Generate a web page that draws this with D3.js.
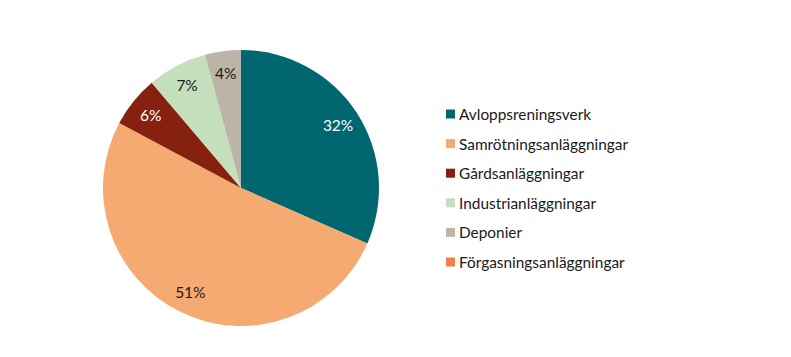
<!DOCTYPE html>
<html><head><meta charset="utf-8">
<script src="https://cdn.jsdelivr.net/npm/d3@7"></script>
<style>body{margin:0;background:#fff}svg{display:block}</style>
</head><body>
<script>
const categories = ["Avloppsreningsverk","Samrötningsanläggningar","Gårdsanläggningar","Industrianläggningar","Deponier","Förgasningsanläggningar"];
const values = [31.6, 51.2, 6.0, 7.0, 4.2, 0];
const colors = ["#00666F","#F4AA70","#86200F","#C4DFBC","#BCB4A7","#F07F4A"];
const labelColors = ["#ffffff","#1a1a1a","#ffffff","#1a1a1a","#1a1a1a","#1a1a1a"];

const W = 791, H = 357;
const svg = d3.select("body").append("svg").attr("width", W).attr("height", H);
const cx = 241, cy = 188, r = 138;
const data = categories.map((c, i) => ({c, v: values[i], i}));
const pie = d3.pie().value(d => d.v).sort(null);
const arcs = pie(data);
const arc = d3.arc().innerRadius(0).outerRadius(r);
const labelArc = d3.arc().innerRadius(r * 0.84).outerRadius(r * 0.84);
const g = svg.append("g").attr("transform", `translate(${cx},${cy})`);
g.selectAll("path").data(arcs.filter(a => a.data.v > 0)).join("path")
  .attr("d", arc).attr("fill", d => colors[d.data.i]);
g.selectAll("text").data(arcs.filter(a => a.data.v > 0)).join("text")
  .attr("transform", d => `translate(${labelArc.centroid(d)})`)
  .attr("text-anchor", "middle").attr("dominant-baseline", "central")
  .style("font-family", "Lato, 'Open Sans', sans-serif").style("font-size", "15.5px")
  .attr("fill", d => labelColors[d.data.i])
  .text(d => Math.round(d.data.v) + "%");

const leg = svg.append("g");
const y0 = 114, dy = 29.6;
categories.forEach((c, i) => {
  leg.append("rect").attr("x", 446).attr("y", y0 + i * dy - 4.5).attr("width", 9).attr("height", 9).attr("fill", colors[i]);
  leg.append("text").attr("x", 459).attr("y", y0 + i * dy).attr("dominant-baseline", "central")
    .style("font-family", "Lato, 'Open Sans', sans-serif").style("font-size", "15.4px").attr("fill", "#1a1a1a").text(c);
});
</script>
</body></html>
